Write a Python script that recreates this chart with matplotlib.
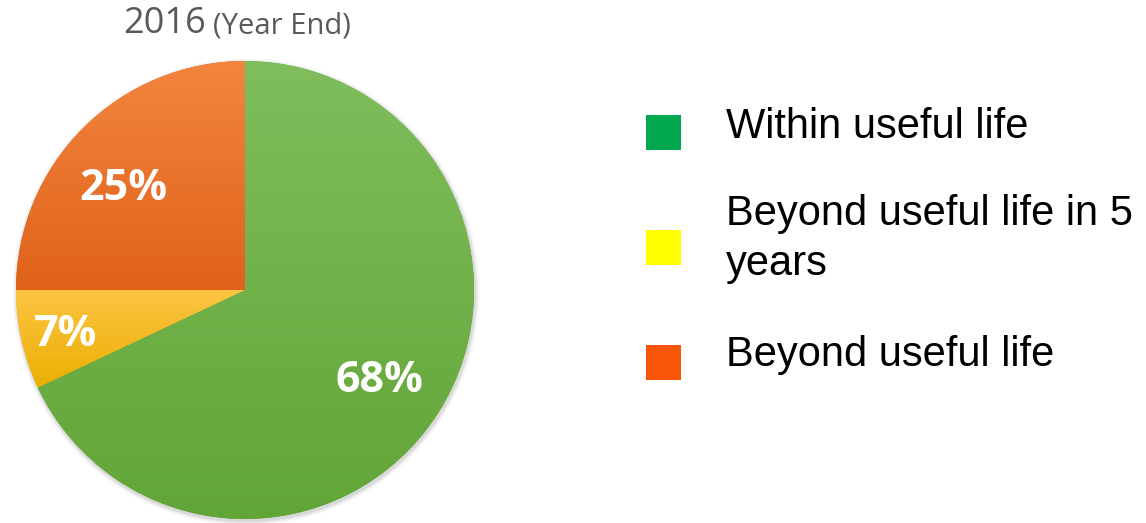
import numpy as np
import matplotlib
matplotlib.use("Agg")
import matplotlib.pyplot as plt
from matplotlib.colors import LinearSegmentedColormap
from matplotlib.patches import Rectangle

# Data
categories = ["Within useful life", "Beyond useful life in 5\nyears", "Beyond useful life"]
values = [68, 7, 25]
pct_labels = ["68%", "7%", "25%"]
legend_colors = ["#00a94f", "#ffff00", "#f95509"]
grad_top = ["#80bd5c", "#fdc444", "#f2853f"]
grad_bot = ["#62a537", "#ebaf00", "#e0621a"]
title_main = "2016"
title_sub = "(Year End)"

W, H = 1146, 523
fig = plt.figure(figsize=(W / 100, H / 100), dpi=100)
ax = fig.add_axes([0, 0, 1, 1])
ax.set_xlim(0, W)
ax.set_ylim(0, H)
ax.axis("off")

cx, cy, r = 245, H - 290, 229

# subtle shadow
for i, a in enumerate(np.linspace(0.05, 0.01, 5)):
    circ = plt.Circle((cx + 1, cy - 2), r + 1 + i, color="black", alpha=a, lw=0, zorder=0)
    ax.add_patch(circ)

wedges, texts = ax.pie(values, startangle=90, counterclock=False, center=(cx, cy),
                       radius=r, colors=grad_bot, wedgeprops=dict(linewidth=0))
ax.set_xlim(0, W)
ax.set_ylim(0, H)
ax.set_aspect("equal")

for w, c0, c1 in zip(wedges, grad_top, grad_bot):
    cmap = LinearSegmentedColormap.from_list("g", [c1, c0])
    grad = np.linspace(0, 1, 256).reshape(-1, 1)
    ext = w.get_path().get_extents()
    im = ax.imshow(grad, cmap=cmap, origin="lower",
                   extent=(ext.x0, ext.x1, ext.y0, ext.y1),
                   aspect="auto", zorder=2)
    im.set_clip_path(w)

# percentage labels
label_pos = [(379, 380), (66, 334), (123, 188)]
for (x, y), t in zip(label_pos, pct_labels):
    ax.text(x, H - y, t, color="white", fontsize=31, fontweight="bold",
            family="Open Sans", ha="center", va="center", zorder=5)

# title
ax.text(206, H - 24, title_main, color="#595959", fontsize=26, family="Open Sans",
        ha="right", va="center")
ax.text(213, H - 26, title_sub, color="#595959", fontsize=21, family="Open Sans",
        ha="left", va="center")

# legend
leg_y = [132, 247, 362]
text_y = [127, 239, 355]
for lab, col, y in zip(categories, legend_colors, leg_y):
    ax.add_patch(Rectangle((646, H - y - 17.5), 35, 35, color=col, lw=0))
for lab, y in zip(categories, text_y):
    ax.text(726, H - y, lab, fontsize=30, family="Liberation Sans", color="black",
            ha="left", va="center", linespacing=1.3)

fig.savefig("out.png", dpi=100)
